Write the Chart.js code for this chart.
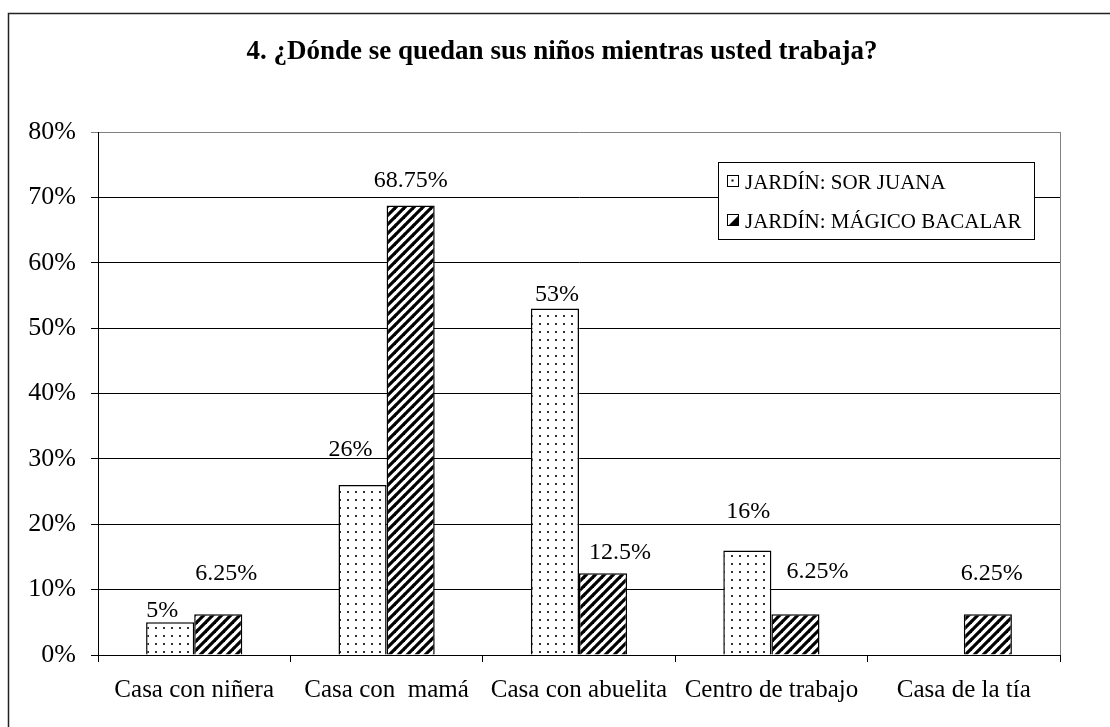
<!DOCTYPE html>
<html><head><meta charset="utf-8">
<script src="https://cdn.jsdelivr.net/npm/chart.js@4/dist/chart.umd.min.js"></script>
<style>html,body{margin:0;padding:0;background:#fff;} canvas{display:block;}</style>
</head><body>
<canvas id="c" width="1110" height="727"></canvas>
<script>
const chartTitle = '4. ¿Dónde se quedan sus niños mientras usted trabaja?';
const categories = ['Casa con niñera', 'Casa con  mamá', 'Casa con abuelita', 'Centro de trabajo', 'Casa de la tía'];
const seriesNames = ['JARDÍN: SOR JUANA', 'JARDÍN: MÁGICO BACALAR'];
const sorJuana = [5, 26, 53, 16, 0];
const magicoBacalar = [6.25, 68.75, 12.5, 6.25, 6.25];
const yTickMin = 0, yTickMax = 80, yTickStep = 10;

// label offsets from bar top (style only)
const sjLabelOffsets = [[-8, -13], [-12, -37], [2, -16], [1, -40], [0, 0]];
const mbLabelOffsets = [[8, -42], [0, -27], [17, -22], [22, -44], [4, -42]];

const FONT = '"Liberation Serif", "Times New Roman", serif';
const canvas = document.getElementById('c');
const mainCtx = canvas.getContext('2d');

function makeDots() {
  const c = document.createElement('canvas'); c.width = 8; c.height = 8;
  const x = c.getContext('2d');
  x.fillStyle = '#fff'; x.fillRect(0, 0, 8, 8);
  x.fillStyle = '#333'; x.fillRect(3, 3, 2, 2);
  return mainCtx.createPattern(c, 'repeat');
}
function makeHatch() {
  const s = 9;
  const c = document.createElement('canvas'); c.width = s; c.height = s;
  const x = c.getContext('2d');
  x.fillStyle = '#fff'; x.fillRect(0, 0, s, s);
  x.strokeStyle = '#000'; x.lineWidth = 3.2;
  for (const k of [-s, 0, s]) {
    x.beginPath(); x.moveTo(k - 1, s + 1); x.lineTo(k + s + 1, -1); x.stroke();
  }
  return mainCtx.createPattern(c, 'repeat');
}
const dots = makeDots();
const hatch = makeHatch();

const framePlugin = {
  id: 'frame',
  beforeDraw(chart) {
    const ctx = chart.ctx;
    ctx.save();
    ctx.fillStyle = '#fff'; ctx.fillRect(0, 0, chart.width, chart.height);
    ctx.strokeStyle = '#222'; ctx.lineWidth = 1.5;
    ctx.strokeRect(8.5, 13.5, 1300, 900);
    ctx.fillStyle = '#000';
    ctx.font = 'bold 27px ' + FONT;
    ctx.textAlign = 'center'; ctx.textBaseline = 'alphabetic';
    ctx.fillText(chartTitle, 562, 59);
    ctx.restore();
  },
  beforeDatasetsDraw(chart) {
    const ctx = chart.ctx, a = chart.chartArea;
    ctx.save();
    ctx.strokeStyle = '#808080'; ctx.lineWidth = 1;
    ctx.beginPath(); ctx.moveTo(Math.round(a.right) + 0.5, a.top); ctx.lineTo(Math.round(a.right) + 0.5, a.bottom); ctx.stroke();
    ctx.restore();
  },
  afterDatasetsDraw(chart) {
    const ctx = chart.ctx;
    ctx.save();
    ctx.fillStyle = '#000';
    ctx.font = '24px ' + FONT;
    ctx.textAlign = 'center'; ctx.textBaseline = 'alphabetic';
    chart.data.datasets.forEach((ds, i) => {
      const meta = chart.getDatasetMeta(i);
      meta.data.forEach((bar, j) => {
        const v = ds.data[j];
        if (!v) return;
        const off = ds.labelOffsets[j];
        ctx.fillText(v + '%', bar.x + off[0], bar.y + off[1] + 8);
      });
    });
    // legend
    const lx = 718, ly = 162, lw = 316, lh = 77;
    ctx.fillStyle = '#fff';
    ctx.fillRect(lx, ly, lw, lh);
    ctx.strokeStyle = '#000'; ctx.lineWidth = 1;
    ctx.strokeRect(lx + 0.5, ly + 0.5, lw, lh);
    ctx.font = '21px ' + FONT;
    ctx.textAlign = 'left';
    const rows = [181, 220];
    chart.data.datasets.forEach((ds, i) => {
      const cy = rows[i];
      const sx = 727, sy = cy - 6, ss = 11;
      ctx.fillStyle = '#fff'; ctx.fillRect(sx, sy, ss, ss);
      ctx.fillStyle = '#000';
      if (i === 0) {
        ctx.fillRect(sx + 4.5, sy + 4.5, 2, 2);
      } else {
        ctx.beginPath(); ctx.moveTo(sx + ss, sy + 2); ctx.lineTo(sx + ss, sy + ss); ctx.lineTo(sx + 2, sy + ss); ctx.closePath(); ctx.fill();
      }
      ctx.strokeStyle = '#000'; ctx.lineWidth = 1;
      ctx.strokeRect(sx + 0.5, sy + 0.5, ss, ss);
      ctx.fillStyle = '#000';
      ctx.fillText(ds.label, 745, cy + 8);
    });
    ctx.restore();
  }
};

new Chart(canvas, {
  type: 'bar',
  data: {
    labels: categories,
    datasets: [
      { label: seriesNames[0], data: sorJuana, backgroundColor: dots, borderColor: '#000', borderWidth: 1.5, labelOffsets: sjLabelOffsets },
      { label: seriesNames[1], data: magicoBacalar, backgroundColor: hatch, borderColor: '#000', borderWidth: 1.5, labelOffsets: mbLabelOffsets }
    ]
  },
  options: {
    responsive: false,
    animation: false,
    devicePixelRatio: 1,
    categoryPercentage: 0.5,
    barPercentage: 1,
    layout: { padding: { left: 0, top: 132, right: 50, bottom: 0 } },
    plugins: { legend: { display: false }, title: { display: false }, tooltip: { enabled: false } },
    scales: {
      x: {
        afterFit(s) { s.height = 72; },
        grid: { offset: true, drawOnChartArea: false, drawTicks: true, tickLength: 7, color: '#000', lineWidth: 1 },
        border: { display: true, color: '#000', width: 1 },
        ticks: { color: '#000', font: { family: FONT, size: 25 }, padding: 13, maxRotation: 0, autoSkip: false }
      },
      y: {
        min: yTickMin, max: yTickMax,
        afterFit(s) { s.width = 98; },
        grid: { color: c => (c.tick && c.tick.value === yTickMax) ? '#808080' : '#000', lineWidth: 1, tickLength: 7, drawTicks: true },
        border: { display: true, color: '#000', width: 1 },
        ticks: { stepSize: yTickStep, color: '#000', font: { family: FONT, size: 26 }, padding: 15, callback: v => v + '%' }
      }
    }
  },
  plugins: [framePlugin]
});
</script>
</body></html>
